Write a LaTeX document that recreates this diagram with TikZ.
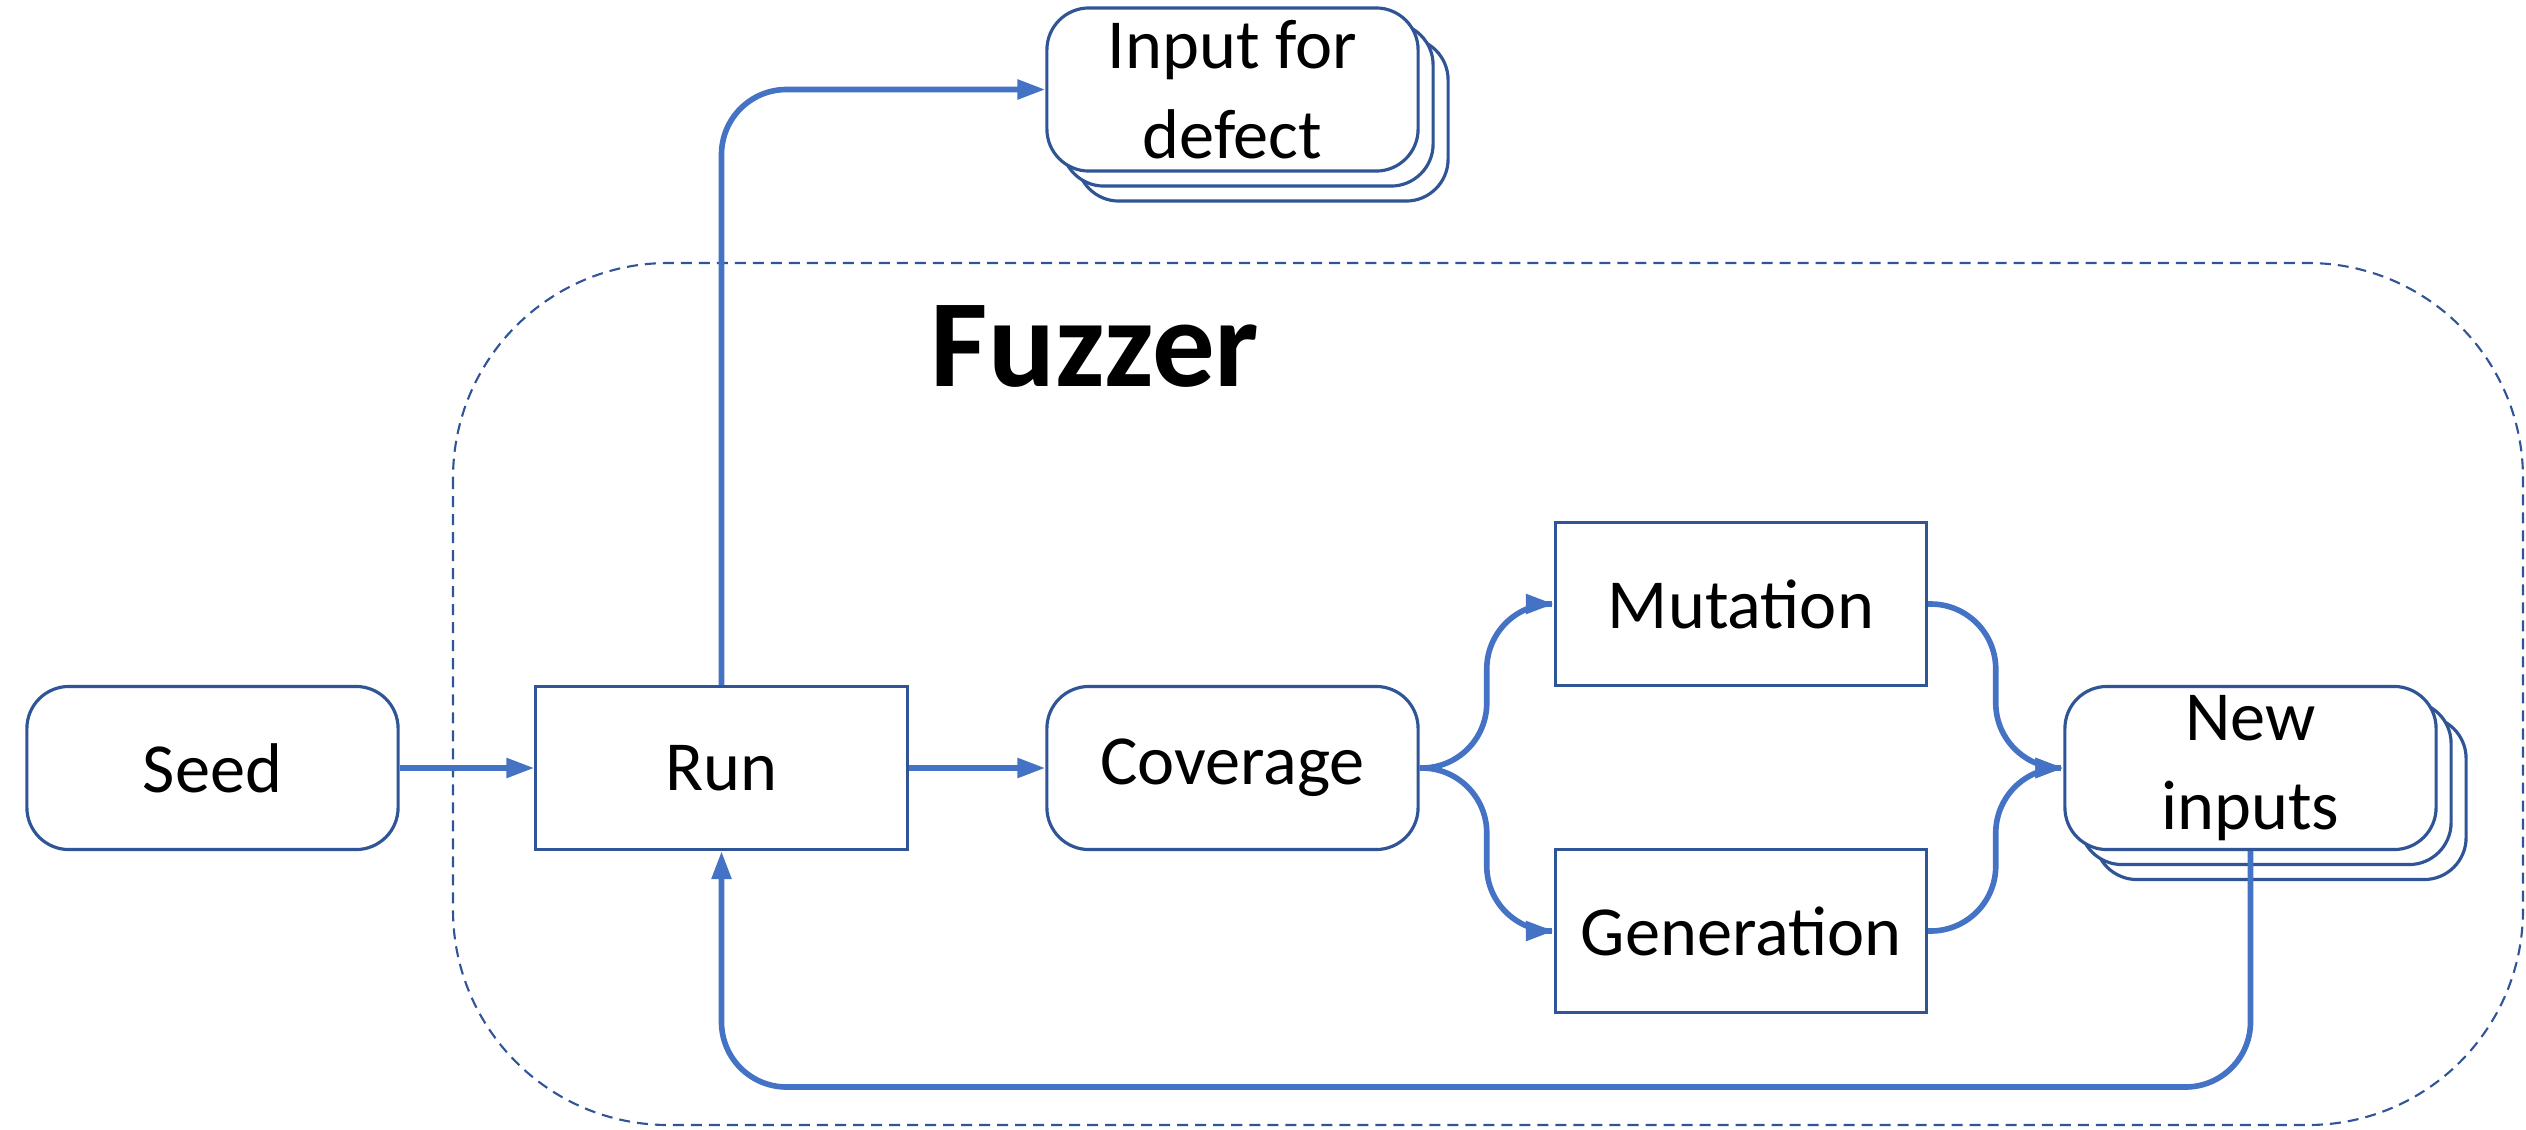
\documentclass[tikz,border=0pt]{standalone}
\usepackage{fontspec}
\setmainfont{Carlito}
\usetikzlibrary{arrows.meta,calc}
\definecolor{boxblue}{HTML}{2F5597}
\definecolor{lineblue}{HTML}{4472C4}
\begin{document}
\begin{tikzpicture}[x=0.01cm,y=-0.01cm,
        box/.style={draw=boxblue,line width=0.9pt,fill=white,minimum width=3.71cm,minimum height=1.63cm,
            inner sep=0pt,align=center,font=\fontsize{20}{25.5}\selectfont},
        roundbox/.style={box,rounded corners=0.42cm},
        flow/.style={draw=lineblue,line width=1.6pt,rounded corners=0.65cm,-{Triangle[length=0.28cm,width=0.19cm]}}]
        \useasboundingbox (0,0) rectangle (2526,1130);
        % fuzzer frame
        \draw[boxblue,line width=0.6pt,dash pattern=on 0.11cm off 0.07cm,rounded corners=2.15cm]
            (453,263) rectangle (2523,1125);
        \node[font=\fontsize{35.5}{40}\selectfont\bfseries] (title) at (1095,346) {Fuzzer};
        % boxes
        \node[roundbox] (seed) at (212.5,768) {Seed};
        \node[box] (run) at (721.5,768) {Run};
        \node[roundbox] (cov) at (1232.5,768) {Coverage};
        \node[box] (mut) at (1741,604) {Mutation};
        \node[box] (gen) at (1741,931) {Generation};
        \node[roundbox] (newc) at (2280.5,798) {};
        \node[roundbox] (newb) at (2265.5,783) {};
        \node[roundbox] (new) at (2250.5,768) {New\\inputs};
        \node[roundbox] (defc) at (1262.5,119.5) {};
        \node[roundbox] (defb) at (1247.5,104.5) {};
        \node[roundbox] (def) at (1232.5,89.5) {Input for\\defect};
        \coordinate (split) at ($(cov.east)!0.5!(mut.west)$);
        \coordinate (join) at ($(mut.east)!0.5!(new.west)$);
        \coordinate (loop) at (1500,1087);
        % connectors
        \draw[flow] (seed) -- (run);
        \draw[flow] (run) -- (cov);
        \draw[flow] (cov.east) -| (split |- mut.west) -- (mut.west);
        \draw[flow] (cov.east) -| (split |- gen.west) -- (gen.west);
        \draw[flow] (mut.east) -| (join |- new.west) -- (new.west);
        \draw[flow] (gen.east) -| (join |- new.west) -- (new.west);
        \draw[flow] (run.north) |- (def.west);
        \draw[flow] (new.south) |- (loop) -| (run.south);
    \end{tikzpicture}
\end{document}
